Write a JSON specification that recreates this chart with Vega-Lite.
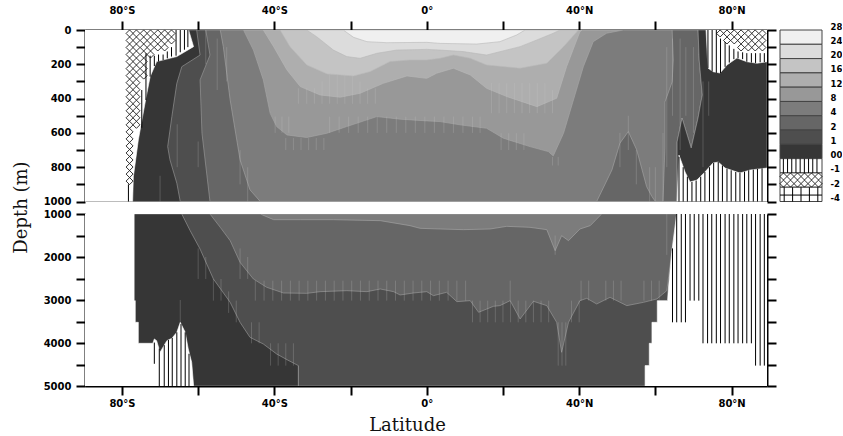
{"$schema":"https://vega.github.io/schema/vega-lite/v6.json","background":"white","padding":{"left":12,"top":5,"right":0,"bottom":0},"spacing":1,
"config":{"view":{"stroke":null},"axis":{"grid":false,"domainWidth":2,"tickWidth":2,"tickSize":9,"domainColor":"black","tickColor":"black","labelColor":"black","labelFont":"DejaVu Sans","labelFontWeight":"bold","labelFontSize":10,"titleFont":"DejaVu Serif","titleFontWeight":"normal","titleFontSize":18,"titleColor":"#111","zindex":1}},
"datasets":{
"polyTop":[
{"b":"24-28","p":"a","lat":-89.7,"d":0},{"b":"24-28","p":"a","lat":89.3,"d":0},{"b":"24-28","p":"a","lat":89.3,"d":1000},{"b":"24-28","p":"a","lat":-89.7,"d":1000},
{"b":"20-24","p":"b","lat":-89.7,"d":0},{"b":"20-24","p":"b","lat":-21.9,"d":0},{"b":"20-24","p":"b","lat":-19.2,"d":43},{"b":"20-24","p":"b","lat":-15.7,"d":68},{"b":"20-24","p":"b","lat":-10.5,"d":74},{"b":"20-24","p":"b","lat":0,"d":72},{"b":"20-24","p":"b","lat":3.5,"d":78},{"b":"20-24","p":"b","lat":13.1,"d":82},{"b":"20-24","p":"b","lat":19.2,"d":68},{"b":"20-24","p":"b","lat":23.6,"d":29},{"b":"20-24","p":"b","lat":25.8,"d":0},{"b":"20-24","p":"b","lat":89.3,"d":0},{"b":"20-24","p":"b","lat":89.3,"d":1000},{"b":"20-24","p":"b","lat":-89.7,"d":1000},
{"b":"16-20","p":"c","lat":-89.7,"d":0},{"b":"16-20","p":"c","lat":-31.5,"d":0},{"b":"16-20","p":"c","lat":-28.9,"d":39},{"b":"16-20","p":"c","lat":-24.5,"d":117},{"b":"16-20","p":"c","lat":-21,"d":155},{"b":"16-20","p":"c","lat":-17.5,"d":165},{"b":"16-20","p":"c","lat":-13.1,"d":136},{"b":"16-20","p":"c","lat":-7.9,"d":117},{"b":"16-20","p":"c","lat":0,"d":113},{"b":"16-20","p":"c","lat":3.5,"d":117},{"b":"16-20","p":"c","lat":9.6,"d":126},{"b":"16-20","p":"c","lat":15.7,"d":146},{"b":"16-20","p":"c","lat":24.5,"d":97},{"b":"16-20","p":"c","lat":28.9,"d":58},{"b":"16-20","p":"c","lat":33.2,"d":19},{"b":"16-20","p":"c","lat":35,"d":0},{"b":"16-20","p":"c","lat":89.3,"d":0},{"b":"16-20","p":"c","lat":89.3,"d":1000},{"b":"16-20","p":"c","lat":-89.7,"d":1000},
{"b":"12-16","p":"d","lat":-89.7,"d":0},{"b":"12-16","p":"d","lat":-38.5,"d":0},{"b":"12-16","p":"d","lat":-35.9,"d":97},{"b":"12-16","p":"d","lat":-31.5,"d":204},{"b":"12-16","p":"d","lat":-26.2,"d":256},{"b":"12-16","p":"d","lat":-19.2,"d":268},{"b":"12-16","p":"d","lat":-14.9,"d":243},{"b":"12-16","p":"d","lat":-9.6,"d":184},{"b":"12-16","p":"d","lat":-4.4,"d":175},{"b":"12-16","p":"d","lat":0,"d":175},{"b":"12-16","p":"d","lat":3.5,"d":165},{"b":"12-16","p":"d","lat":7,"d":146},{"b":"12-16","p":"d","lat":11.4,"d":165},{"b":"12-16","p":"d","lat":15.7,"d":204},{"b":"12-16","p":"d","lat":24.5,"d":223},{"b":"12-16","p":"d","lat":31.5,"d":194},{"b":"12-16","p":"d","lat":35.9,"d":97},{"b":"12-16","p":"d","lat":39.4,"d":10},{"b":"12-16","p":"d","lat":39.8,"d":0},{"b":"12-16","p":"d","lat":89.3,"d":0},{"b":"12-16","p":"d","lat":89.3,"d":1000},{"b":"12-16","p":"d","lat":-89.7,"d":1000},
{"b":"8-12","p":"e","lat":-89.7,"d":0},{"b":"8-12","p":"e","lat":-42.9,"d":0},{"b":"8-12","p":"e","lat":-40.2,"d":97},{"b":"8-12","p":"e","lat":-36.7,"d":233},{"b":"8-12","p":"e","lat":-33.2,"d":330},{"b":"8-12","p":"e","lat":-28,"d":379},{"b":"8-12","p":"e","lat":-22.7,"d":392},{"b":"8-12","p":"e","lat":-17.5,"d":369},{"b":"8-12","p":"e","lat":-11.4,"d":311},{"b":"8-12","p":"e","lat":-5.2,"d":268},{"b":"8-12","p":"e","lat":0,"d":282},{"b":"8-12","p":"e","lat":2.6,"d":252},{"b":"8-12","p":"e","lat":7,"d":223},{"b":"8-12","p":"e","lat":11.4,"d":262},{"b":"8-12","p":"e","lat":15.7,"d":340},{"b":"8-12","p":"e","lat":21,"d":388},{"b":"8-12","p":"e","lat":28.9,"d":447},{"b":"8-12","p":"e","lat":34.1,"d":398},{"b":"8-12","p":"e","lat":36.7,"d":214},{"b":"8-12","p":"e","lat":40.2,"d":10},{"b":"8-12","p":"e","lat":40.8,"d":0},{"b":"8-12","p":"e","lat":89.3,"d":0},{"b":"8-12","p":"e","lat":89.3,"d":1000},{"b":"8-12","p":"e","lat":-89.7,"d":1000},
{"b":"4-8","p":"f","lat":-89.7,"d":0},{"b":"4-8","p":"f","lat":-48.1,"d":0},{"b":"4-8","p":"f","lat":-45.5,"d":117},{"b":"4-8","p":"f","lat":-42.9,"d":291},{"b":"4-8","p":"f","lat":-41.1,"d":486},{"b":"4-8","p":"f","lat":-39.4,"d":563},{"b":"4-8","p":"f","lat":-36.7,"d":612},{"b":"4-8","p":"f","lat":-31.5,"d":627},{"b":"4-8","p":"f","lat":-26.2,"d":602},{"b":"4-8","p":"f","lat":-21,"d":563},{"b":"4-8","p":"f","lat":-13.1,"d":505},{"b":"4-8","p":"f","lat":-7,"d":520},{"b":"4-8","p":"f","lat":0,"d":530},{"b":"4-8","p":"f","lat":3.5,"d":534},{"b":"4-8","p":"f","lat":8.7,"d":553},{"b":"4-8","p":"f","lat":15.7,"d":573},{"b":"4-8","p":"f","lat":20.1,"d":631},{"b":"4-8","p":"f","lat":27.1,"d":680},{"b":"4-8","p":"f","lat":31.9,"d":709},{"b":"4-8","p":"f","lat":33.2,"d":734},{"b":"4-8","p":"f","lat":35.9,"d":602},{"b":"4-8","p":"f","lat":38.5,"d":408},{"b":"4-8","p":"f","lat":41.1,"d":214},{"b":"4-8","p":"f","lat":43.7,"d":68},{"b":"4-8","p":"f","lat":47.2,"d":19},{"b":"4-8","p":"f","lat":51.6,"d":0},{"b":"4-8","p":"f","lat":89.3,"d":0},{"b":"4-8","p":"f","lat":89.3,"d":1000},{"b":"4-8","p":"f","lat":-89.7,"d":1000},
{"b":"2-4","p":"g","lat":-89.7,"d":0},{"b":"2-4","p":"g","lat":-54.2,"d":0},{"b":"2-4","p":"g","lat":-53.4,"d":97},{"b":"2-4","p":"g","lat":-51.6,"d":408},{"b":"2-4","p":"g","lat":-49,"d":757},{"b":"2-4","p":"g","lat":-46.4,"d":932},{"b":"2-4","p":"g","lat":-43.7,"d":1000},{"b":"2-4","p":"g","lat":44.6,"d":1000},{"b":"2-4","p":"g","lat":48.6,"d":816},{"b":"2-4","p":"g","lat":50.7,"d":660},{"b":"2-4","p":"g","lat":52.9,"d":592},{"b":"2-4","p":"g","lat":55.1,"d":699},{"b":"2-4","p":"g","lat":57.7,"d":913},{"b":"2-4","p":"g","lat":59.1,"d":971},{"b":"2-4","p":"g","lat":60,"d":1000},{"b":"2-4","p":"g","lat":62,"d":1000},{"b":"2-4","p":"g","lat":62.5,"d":688},{"b":"2-4","p":"g","lat":62.5,"d":420},{"b":"2-4","p":"g","lat":64.4,"d":303},{"b":"2-4","p":"g","lat":64.7,"d":175},{"b":"2-4","p":"g","lat":64.4,"d":0},{"b":"2-4","p":"g","lat":89.3,"d":0},{"b":"2-4","p":"g","lat":89.3,"d":1000},{"b":"2-4","p":"g","lat":-89.7,"d":1000},
{"b":"1-2","p":"h","lat":-89.7,"d":0},{"b":"1-2","p":"h","lat":-58,"d":0},{"b":"1-2","p":"h","lat":-56.9,"d":146},{"b":"1-2","p":"h","lat":-59.5,"d":291},{"b":"1-2","p":"h","lat":-59,"d":602},{"b":"1-2","p":"h","lat":-56.9,"d":1000},{"b":"1-2","p":"h","lat":65.7,"d":1000},{"b":"1-2","p":"h","lat":65.7,"d":653},{"b":"1-2","p":"h","lat":67,"d":513},{"b":"1-2","p":"h","lat":69.4,"d":688},{"b":"1-2","p":"h","lat":71.2,"d":513},{"b":"1-2","p":"h","lat":72.3,"d":379},{"b":"1-2","p":"h","lat":71.5,"d":175},{"b":"1-2","p":"h","lat":71.2,"d":0},{"b":"1-2","p":"h","lat":89.3,"d":0},{"b":"1-2","p":"h","lat":89.3,"d":1000},{"b":"1-2","p":"h","lat":-89.7,"d":1000},
{"b":"0-1","p":"i","lat":-89.7,"d":0},{"b":"0-1","p":"i","lat":-60.4,"d":0},{"b":"0-1","p":"i","lat":-59.5,"d":146},{"b":"0-1","p":"i","lat":-64.3,"d":214},{"b":"0-1","p":"i","lat":-65.6,"d":311},{"b":"0-1","p":"i","lat":-66.9,"d":505},{"b":"0-1","p":"i","lat":-68,"d":680},{"b":"0-1","p":"i","lat":-67.4,"d":757},{"b":"0-1","p":"i","lat":-65.6,"d":893},{"b":"0-1","p":"i","lat":-64.7,"d":1000},{"b":"0-1","p":"i","lat":65.7,"d":1000},{"b":"0-1","p":"i","lat":65.7,"d":653},{"b":"0-1","p":"i","lat":67,"d":513},{"b":"0-1","p":"i","lat":69.4,"d":688},{"b":"0-1","p":"i","lat":71.2,"d":513},{"b":"0-1","p":"i","lat":72.3,"d":379},{"b":"0-1","p":"i","lat":71.5,"d":175},{"b":"0-1","p":"i","lat":71.2,"d":0},{"b":"0-1","p":"i","lat":89.3,"d":0},{"b":"0-1","p":"i","lat":89.3,"d":1000},{"b":"0-1","p":"i","lat":-89.7,"d":1000},
{"b":"sub","p":"j","lat":-89.7,"d":0},{"b":"sub","p":"j","lat":-62.5,"d":0},{"b":"sub","p":"j","lat":-61.2,"d":97},{"b":"sub","p":"j","lat":-65.6,"d":155},{"b":"sub","p":"j","lat":-70.9,"d":184},{"b":"sub","p":"j","lat":-72.6,"d":272},{"b":"sub","p":"j","lat":-73.8,"d":408},{"b":"sub","p":"j","lat":-75.7,"d":641},{"b":"sub","p":"j","lat":-77,"d":855},{"b":"sub","p":"j","lat":-77.2,"d":1000},{"b":"sub","p":"j","lat":-89.7,"d":1000},
{"b":"sub","p":"k","lat":73.3,"d":0},{"b":"sub","p":"k","lat":73.8,"d":222},{"b":"sub","p":"k","lat":75.1,"d":243},{"b":"sub","p":"k","lat":77,"d":251},{"b":"sub","p":"k","lat":78.8,"d":204},{"b":"sub","p":"k","lat":81.4,"d":163},{"b":"sub","p":"k","lat":84,"d":185},{"b":"sub","p":"k","lat":86.7,"d":194},{"b":"sub","p":"k","lat":89.3,"d":185},{"b":"sub","p":"k","lat":89.3,"d":0},
{"b":"sub","p":"l","lat":65.7,"d":1000},{"b":"sub","p":"l","lat":66.2,"d":729},{"b":"sub","p":"l","lat":67.8,"d":828},{"b":"sub","p":"l","lat":69.1,"d":886},{"b":"sub","p":"l","lat":70.9,"d":875},{"b":"sub","p":"l","lat":73,"d":828},{"b":"sub","p":"l","lat":75.1,"d":776},{"b":"sub","p":"l","lat":76.5,"d":770},{"b":"sub","p":"l","lat":78.3,"d":805},{"b":"sub","p":"l","lat":82.2,"d":834},{"b":"sub","p":"l","lat":84.9,"d":816},{"b":"sub","p":"l","lat":89.3,"d":805},{"b":"sub","p":"l","lat":89.3,"d":1000}
],
"polyBot":[
{"b":"4-8","p":"a","lat":-89.7,"d":1000},{"b":"4-8","p":"a","lat":89.3,"d":1000},{"b":"4-8","p":"a","lat":89.3,"d":5000},{"b":"4-8","p":"a","lat":-89.7,"d":5000},
{"b":"2-4","p":"b","lat":-89.7,"d":1000},{"b":"2-4","p":"b","lat":-43.7,"d":1000},{"b":"2-4","p":"b","lat":-40.2,"d":1132},{"b":"2-4","p":"b","lat":-33.2,"d":1132},{"b":"2-4","p":"b","lat":-24.5,"d":1132},{"b":"2-4","p":"b","lat":-12.2,"d":1155},{"b":"2-4","p":"b","lat":-4.4,"d":1271},{"b":"2-4","p":"b","lat":-1.75,"d":1333},{"b":"2-4","p":"b","lat":3.5,"d":1349},{"b":"2-4","p":"b","lat":9.6,"d":1364},{"b":"2-4","p":"b","lat":16.6,"d":1349},{"b":"2-4","p":"b","lat":21,"d":1287},{"b":"2-4","p":"b","lat":27.1,"d":1310},{"b":"2-4","p":"b","lat":31.5,"d":1364},{"b":"2-4","p":"b","lat":33.7,"d":1853},{"b":"2-4","p":"b","lat":35.4,"d":1504},{"b":"2-4","p":"b","lat":37.2,"d":1620},{"b":"2-4","p":"b","lat":40.2,"d":1349},{"b":"2-4","p":"b","lat":42.9,"d":1271},{"b":"2-4","p":"b","lat":45.9,"d":1000},{"b":"2-4","p":"b","lat":89.3,"d":1000},{"b":"2-4","p":"b","lat":89.3,"d":5000},{"b":"2-4","p":"b","lat":-89.7,"d":5000},
{"b":"1-2","p":"c","lat":-89.7,"d":1000},{"b":"1-2","p":"c","lat":-56.9,"d":1000},{"b":"1-2","p":"c","lat":-54.2,"d":1310},{"b":"1-2","p":"c","lat":-51.6,"d":1620},{"b":"1-2","p":"c","lat":-49,"d":2124},{"b":"1-2","p":"c","lat":-45.5,"d":2511},{"b":"1-2","p":"c","lat":-42,"d":2705},{"b":"1-2","p":"c","lat":-37.6,"d":2837},{"b":"1-2","p":"c","lat":-31.5,"d":2845},{"b":"1-2","p":"c","lat":-28,"d":2806},{"b":"1-2","p":"c","lat":-21,"d":2783},{"b":"1-2","p":"c","lat":-15.7,"d":2806},{"b":"1-2","p":"c","lat":-12.2,"d":2744},{"b":"1-2","p":"c","lat":-8.7,"d":2806},{"b":"1-2","p":"c","lat":-7,"d":2883},{"b":"1-2","p":"c","lat":-3.5,"d":2837},{"b":"1-2","p":"c","lat":0,"d":2806},{"b":"1-2","p":"c","lat":1.75,"d":2899},{"b":"1-2","p":"c","lat":5.2,"d":2821},{"b":"1-2","p":"c","lat":7.9,"d":3038},{"b":"1-2","p":"c","lat":11.4,"d":3015},{"b":"1-2","p":"c","lat":13.6,"d":3286},{"b":"1-2","p":"c","lat":17.5,"d":3147},{"b":"1-2","p":"c","lat":19.2,"d":3131},{"b":"1-2","p":"c","lat":21.9,"d":3015},{"b":"1-2","p":"c","lat":24.5,"d":3441},{"b":"1-2","p":"c","lat":28,"d":3030},{"b":"1-2","p":"c","lat":31.5,"d":3131},{"b":"1-2","p":"c","lat":34.1,"d":3519},{"b":"1-2","p":"c","lat":35.4,"d":4216},{"b":"1-2","p":"c","lat":37.2,"d":3519},{"b":"1-2","p":"c","lat":40.2,"d":3015},{"b":"1-2","p":"c","lat":42,"d":2961},{"b":"1-2","p":"c","lat":44.6,"d":3093},{"b":"1-2","p":"c","lat":48.1,"d":2938},{"b":"1-2","p":"c","lat":52.5,"d":3131},{"b":"1-2","p":"c","lat":56.9,"d":3054},{"b":"1-2","p":"c","lat":60.4,"d":2976},{"b":"1-2","p":"c","lat":63,"d":2783},{"b":"1-2","p":"c","lat":64.3,"d":1891},{"b":"1-2","p":"c","lat":65.6,"d":1000},{"b":"1-2","p":"c","lat":89.3,"d":1000},{"b":"1-2","p":"c","lat":89.3,"d":5000},{"b":"1-2","p":"c","lat":-89.7,"d":5000},
{"b":"0-1","p":"d","lat":-89.7,"d":1000},{"b":"0-1","p":"d","lat":-64.3,"d":1000},{"b":"0-1","p":"d","lat":-62.1,"d":1388},{"b":"0-1","p":"d","lat":-59.5,"d":1814},{"b":"0-1","p":"d","lat":-56,"d":2511},{"b":"0-1","p":"d","lat":-51.6,"d":3054},{"b":"0-1","p":"d","lat":-49,"d":3519},{"b":"0-1","p":"d","lat":-46.4,"d":3868},{"b":"0-1","p":"d","lat":-42.9,"d":4023},{"b":"0-1","p":"d","lat":-39.4,"d":4255},{"b":"0-1","p":"d","lat":-36.7,"d":4387},{"b":"0-1","p":"d","lat":-33.7,"d":4526},{"b":"0-1","p":"d","lat":-33.7,"d":5000},{"b":"0-1","p":"d","lat":-89.7,"d":5000},
{"b":"sub","p":"e","lat":-89.7,"d":1000},{"b":"sub","p":"e","lat":-76.8,"d":1000},{"b":"sub","p":"e","lat":-76.8,"d":3015},{"b":"sub","p":"e","lat":-76.5,"d":3015},{"b":"sub","p":"e","lat":-76.5,"d":3519},{"b":"sub","p":"e","lat":-75.7,"d":3519},{"b":"sub","p":"e","lat":-75.7,"d":4007},{"b":"sub","p":"e","lat":-71.9,"d":4007},{"b":"sub","p":"e","lat":-71.5,"d":3906},{"b":"sub","p":"e","lat":-70.9,"d":3945},{"b":"sub","p":"e","lat":-70,"d":4216},{"b":"sub","p":"e","lat":-68.2,"d":3945},{"b":"sub","p":"e","lat":-66.9,"d":3891},{"b":"sub","p":"e","lat":-65.6,"d":3751},{"b":"sub","p":"e","lat":-64.7,"d":3519},{"b":"sub","p":"e","lat":-63.4,"d":3751},{"b":"sub","p":"e","lat":-62.6,"d":4139},{"b":"sub","p":"e","lat":-61.7,"d":4449},{"b":"sub","p":"e","lat":-61.2,"d":4991},{"b":"sub","p":"e","lat":-61.2,"d":5000},{"b":"sub","p":"e","lat":-89.7,"d":5000},
{"b":"sub","p":"f","lat":65.6,"d":1000},{"b":"sub","p":"f","lat":64.3,"d":1891},{"b":"sub","p":"f","lat":63.4,"d":2744},{"b":"sub","p":"f","lat":63.2,"d":3015},{"b":"sub","p":"f","lat":60.5,"d":3015},{"b":"sub","p":"f","lat":60.5,"d":3519},{"b":"sub","p":"f","lat":59.1,"d":3519},{"b":"sub","p":"f","lat":59.1,"d":4007},{"b":"sub","p":"f","lat":58.4,"d":4007},{"b":"sub","p":"f","lat":58.4,"d":4526},{"b":"sub","p":"f","lat":57.3,"d":4526},{"b":"sub","p":"f","lat":57.3,"d":5000},{"b":"sub","p":"f","lat":89.3,"d":5000},{"b":"sub","p":"f","lat":89.3,"d":1000}
],
"hatchTop":[
{"lat":-74.8,"top":350,"bot":570},{"lat":-73.7,"top":136,"bot":408},{"lat":-72.6,"top":150,"bot":272},{"lat":-71.5,"top":150,"bot":210},{"lat":-70.4,"top":143,"bot":184},{"lat":-69.2,"top":143,"bot":175},{"lat":-68.1,"top":125,"bot":165},{"lat":-67,"top":100,"bot":155},{"lat":-65.8,"top":0,"bot":150},{"lat":-64.7,"top":0,"bot":130},{"lat":-63.6,"top":0,"bot":115},{"lat":-62.7,"top":0,"bot":100},
{"lat":73.8,"top":0,"bot":222},{"lat":74.9,"top":0,"bot":243},{"lat":76,"top":0,"bot":250},{"lat":77.1,"top":50,"bot":251},{"lat":78.3,"top":70,"bot":215},{"lat":79.4,"top":90,"bot":190},{"lat":80.6,"top":110,"bot":170},{"lat":81.7,"top":125,"bot":165},{"lat":82.9,"top":130,"bot":170},{"lat":84,"top":135,"bot":185},{"lat":85.2,"top":135,"bot":190},{"lat":86.3,"top":135,"bot":192},{"lat":87.5,"top":135,"bot":188},{"lat":88.6,"top":135,"bot":187},
{"lat":66.2,"top":740,"bot":1000},{"lat":67.3,"top":800,"bot":1000},{"lat":68.4,"top":855,"bot":1000},{"lat":69.6,"top":886,"bot":1000},{"lat":70.7,"top":878,"bot":1000},{"lat":71.9,"top":855,"bot":1000},{"lat":73,"top":828,"bot":1000},{"lat":74.2,"top":800,"bot":1000},{"lat":75.3,"top":775,"bot":1000},{"lat":76.5,"top":770,"bot":1000},{"lat":77.6,"top":790,"bot":1000},{"lat":78.8,"top":808,"bot":1000},{"lat":79.9,"top":818,"bot":1000},{"lat":81.1,"top":828,"bot":1000},{"lat":82.2,"top":834,"bot":1000},{"lat":83.4,"top":826,"bot":1000},{"lat":84.5,"top":818,"bot":1000},{"lat":85.7,"top":814,"bot":1000},{"lat":86.8,"top":810,"bot":1000},{"lat":88,"top":807,"bot":1000},{"lat":-78.3,"top":900,"bot":1000}
],
"hatchBot":[
{"lat":-71.5,"top":3990,"bot":4484},{"lat":-70.2,"top":4130,"bot":5000},{"lat":-68.9,"top":4050,"bot":5000},{"lat":-67.8,"top":3930,"bot":5000},{"lat":-66.8,"top":3880,"bot":5000},{"lat":-65.6,"top":3751,"bot":5000},{"lat":-64.5,"top":3560,"bot":5000},{"lat":-63.4,"top":3751,"bot":5000},{"lat":-62.4,"top":4250,"bot":5000},
{"lat":64.5,"top":1800,"bot":3519},{"lat":65.6,"top":1000,"bot":3519},{"lat":66.8,"top":1000,"bot":3519},{"lat":67.9,"top":1000,"bot":3519},{"lat":69.1,"top":1000,"bot":3015},{"lat":70.2,"top":1000,"bot":3015},{"lat":71.4,"top":1000,"bot":3015},{"lat":72.5,"top":1000,"bot":4007},{"lat":73.7,"top":1000,"bot":4007},{"lat":74.8,"top":1000,"bot":4007},{"lat":76,"top":1000,"bot":4007},{"lat":77.1,"top":1000,"bot":4007},{"lat":78.3,"top":1000,"bot":4007},{"lat":79.4,"top":1000,"bot":4007},{"lat":80.6,"top":1000,"bot":4007},{"lat":81.7,"top":1000,"bot":4007},{"lat":82.9,"top":1000,"bot":4007},{"lat":84,"top":1000,"bot":4007},{"lat":85.2,"top":1000,"bot":4007},{"lat":86.3,"top":1000,"bot":4526},{"lat":87.5,"top":1000,"bot":4526},{"lat":88.6,"top":1000,"bot":4526}
],
"crossTop":[
{"lat":-78,"d":20},{"lat":-76.2,"d":20},{"lat":-74.3,"d":20},{"lat":-72.5,"d":20},{"lat":-70.6,"d":20},{"lat":-68.8,"d":20},{"lat":-67,"d":20},
{"lat":-78,"d":61},{"lat":-76.2,"d":61},{"lat":-74.3,"d":61},{"lat":-72.5,"d":61},{"lat":-70.6,"d":61},{"lat":-68.8,"d":61},{"lat":-67,"d":61},
{"lat":-78,"d":102},{"lat":-76.2,"d":102},{"lat":-74.3,"d":102},{"lat":-72.5,"d":102},{"lat":-70.6,"d":102},{"lat":-68.8,"d":102},
{"lat":-78,"d":143},{"lat":-76.2,"d":143},{"lat":-74.3,"d":143},{"lat":-72.5,"d":143},
{"lat":-78,"d":184},{"lat":-76.2,"d":184},{"lat":-74.3,"d":184},
{"lat":-78,"d":225},{"lat":-76.2,"d":225},{"lat":-74.3,"d":225},
{"lat":-78,"d":266},{"lat":-76.2,"d":266},{"lat":-74.3,"d":266},
{"lat":-78,"d":307},{"lat":-76.2,"d":307},{"lat":-78,"d":348},{"lat":-76.2,"d":348},{"lat":-78,"d":389},{"lat":-76.2,"d":389},{"lat":-78,"d":430},{"lat":-76.2,"d":430},{"lat":-78,"d":471},{"lat":-76.2,"d":471},{"lat":-78,"d":512},{"lat":-76.2,"d":512},{"lat":-78,"d":553},{"lat":-76.2,"d":553},
{"lat":-78,"d":594},{"lat":-78,"d":635},{"lat":-78,"d":676},{"lat":-78,"d":717},{"lat":-78,"d":758},{"lat":-78,"d":799},{"lat":-78,"d":840},{"lat":-78,"d":881},
{"lat":77,"d":20},{"lat":78.8,"d":20},{"lat":80.7,"d":20},{"lat":82.5,"d":20},{"lat":84.4,"d":20},{"lat":86.2,"d":20},{"lat":88.1,"d":20},
{"lat":78.8,"d":61},{"lat":80.7,"d":61},{"lat":82.5,"d":61},{"lat":84.4,"d":61},{"lat":86.2,"d":61},{"lat":88.1,"d":61},
{"lat":82.5,"d":102},{"lat":84.4,"d":102},{"lat":86.2,"d":102},{"lat":88.1,"d":102}
],
"artTop":[
{"lat":-33.7,"top":340,"bot":430},{"lat":-31.5,"top":340,"bot":430},{"lat":-29.5,"top":340,"bot":430},{"lat":-27.5,"top":300,"bot":430},{"lat":-25.5,"top":260,"bot":430},{"lat":-23.5,"top":260,"bot":430},{"lat":-21.5,"top":260,"bot":430},{"lat":-19.5,"top":260,"bot":430},{"lat":-17.5,"top":300,"bot":430},{"lat":-15.5,"top":340,"bot":430},{"lat":-13.5,"top":340,"bot":430},
{"lat":-39.8,"top":505,"bot":600},{"lat":-38,"top":505,"bot":600},{"lat":-36.2,"top":505,"bot":600},{"lat":-25.5,"top":505,"bot":600},{"lat":-23,"top":505,"bot":600},{"lat":-20.5,"top":505,"bot":600},{"lat":-18,"top":505,"bot":600},{"lat":-15.5,"top":505,"bot":600},{"lat":-13,"top":505,"bot":600},{"lat":-10.5,"top":505,"bot":600},{"lat":-8,"top":505,"bot":600},{"lat":-5.5,"top":505,"bot":600},{"lat":-3,"top":505,"bot":600},{"lat":-0.5,"top":505,"bot":600},{"lat":2,"top":505,"bot":600},{"lat":4.5,"top":505,"bot":600},{"lat":7,"top":505,"bot":600},{"lat":9.5,"top":505,"bot":600},{"lat":12,"top":505,"bot":600},{"lat":14,"top":505,"bot":600},
{"lat":-37,"top":630,"bot":700},{"lat":-35,"top":630,"bot":700},{"lat":-33,"top":630,"bot":700},{"lat":-31,"top":630,"bot":700},{"lat":-29,"top":630,"bot":700},{"lat":-27,"top":630,"bot":700},
{"lat":17,"top":310,"bot":485},{"lat":19,"top":310,"bot":485},{"lat":21,"top":310,"bot":485},{"lat":23,"top":310,"bot":485},{"lat":25,"top":310,"bot":485},{"lat":27,"top":310,"bot":485},{"lat":29,"top":310,"bot":485},{"lat":31,"top":310,"bot":485},{"lat":33,"top":350,"bot":485},
{"lat":19.5,"top":602,"bot":700},{"lat":21.5,"top":602,"bot":700},{"lat":23.5,"top":602,"bot":700},{"lat":25.5,"top":602,"bot":700},{"lat":33,"top":740,"bot":790},{"lat":34.5,"top":740,"bot":790},
{"lat":52.9,"top":500,"bot":700},{"lat":50.7,"top":600,"bot":800},{"lat":55,"top":700,"bot":900},{"lat":58.5,"top":800,"bot":1000},{"lat":60,"top":800,"bot":1000},{"lat":62,"top":600,"bot":1000},{"lat":63,"top":100,"bot":800},{"lat":64.5,"top":50,"bot":500},{"lat":66.5,"top":50,"bot":700},{"lat":68,"top":100,"bot":500},{"lat":70,"top":100,"bot":600},{"lat":72.5,"top":300,"bot":800},{"lat":74,"top":300,"bot":500},
{"lat":-58,"top":0,"bot":200},{"lat":-55,"top":50,"bot":350},{"lat":-52.5,"top":100,"bot":300},{"lat":-49,"top":700,"bot":900},{"lat":-47,"top":800,"bot":1000},{"lat":-65.5,"top":550,"bot":800},{"lat":-70,"top":850,"bot":1000},{"lat":-60,"top":650,"bot":800}
],
"artBot":[
{"lat":-45,"top":2550,"bot":3015},{"lat":-42.7,"top":2550,"bot":3015},{"lat":-40.4,"top":2550,"bot":3015},{"lat":-38.1,"top":2550,"bot":3015},{"lat":-35.8,"top":2550,"bot":3015},{"lat":-33.5,"top":2550,"bot":3015},{"lat":-31.2,"top":2550,"bot":3015},{"lat":-28.9,"top":2550,"bot":3015},{"lat":-26.6,"top":2550,"bot":3015},{"lat":-24.3,"top":2550,"bot":3015},{"lat":-22,"top":2550,"bot":3015},{"lat":-19.7,"top":2550,"bot":3015},{"lat":-17.4,"top":2550,"bot":3015},{"lat":-15.1,"top":2550,"bot":3015},{"lat":-12.8,"top":2550,"bot":3015},{"lat":-10.5,"top":2550,"bot":3015},{"lat":-8.2,"top":2550,"bot":3015},{"lat":-5.9,"top":2550,"bot":3015},{"lat":-3.6,"top":2550,"bot":3015},{"lat":-1.3,"top":2550,"bot":3015},{"lat":1,"top":2550,"bot":3015},{"lat":3.3,"top":2550,"bot":3015},{"lat":5.6,"top":2550,"bot":3015},{"lat":7.9,"top":2550,"bot":3015},{"lat":10.2,"top":2550,"bot":3015},{"lat":21.9,"top":2550,"bot":3015},{"lat":40.5,"top":2550,"bot":3015},{"lat":42.5,"top":2550,"bot":3015},{"lat":47,"top":2550,"bot":3015},{"lat":49,"top":2550,"bot":3015},{"lat":51,"top":2550,"bot":3015},{"lat":57,"top":2550,"bot":3015},{"lat":59,"top":2550,"bot":3015},{"lat":61,"top":2550,"bot":3015},
{"lat":12,"top":3015,"bot":3519},{"lat":14,"top":3015,"bot":3519},{"lat":16,"top":3015,"bot":3519},{"lat":18,"top":3015,"bot":3519},{"lat":20,"top":3015,"bot":3519},{"lat":22,"top":3015,"bot":3519},{"lat":24,"top":3015,"bot":3519},{"lat":26,"top":3015,"bot":3519},{"lat":28,"top":3015,"bot":3519},{"lat":30,"top":3015,"bot":3519},{"lat":32,"top":3015,"bot":3519},{"lat":38,"top":3015,"bot":3519},{"lat":40,"top":3015,"bot":3519},{"lat":34.5,"top":3519,"bot":4526},{"lat":35.5,"top":3519,"bot":4526},{"lat":36.5,"top":3519,"bot":4526},
{"lat":-46,"top":3519,"bot":4007},{"lat":-44,"top":3519,"bot":4007},{"lat":-41,"top":4007,"bot":4526},{"lat":-39,"top":4007,"bot":4526},{"lat":-37,"top":4007,"bot":4526},{"lat":-35,"top":4007,"bot":4526},{"lat":-33.7,"top":4526,"bot":5000},
{"lat":-56,"top":2511,"bot":3015},{"lat":-54,"top":2511,"bot":3015},{"lat":-52,"top":2800,"bot":3300},{"lat":-50,"top":3015,"bot":3519},{"lat":-60,"top":1800,"bot":2511},{"lat":-58,"top":2000,"bot":2511},{"lat":-49,"top":1800,"bot":2511},{"lat":-47,"top":2000,"bot":2511},{"lat":-64.7,"top":3000,"bot":3519},{"lat":33.7,"top":1500,"bot":1950},{"lat":63,"top":1000,"bot":1950}
],
"legendBands":[
{"b":"24-28","y0":0,"y1":1},{"b":"20-24","y0":1,"y1":2},{"b":"16-20","y0":2,"y1":3},{"b":"12-16","y0":3,"y1":4},{"b":"8-12","y0":4,"y1":5},{"b":"4-8","y0":5,"y1":6},{"b":"2-4","y0":6,"y1":7},{"b":"1-2","y0":7,"y1":8},{"b":"0-1","y0":8,"y1":9},{"b":"sub","y0":9,"y1":10},{"b":"sub","y0":10,"y1":11},{"b":"sub","y0":11,"y1":12}
],
"legendLines":[
{"x0":0.08,"x1":0.08,"y0":9,"y1":10},{"x0":0.18,"x1":0.18,"y0":9,"y1":10},{"x0":0.28,"x1":0.28,"y0":9,"y1":10},{"x0":0.38,"x1":0.38,"y0":9,"y1":10},{"x0":0.48,"x1":0.48,"y0":9,"y1":10},{"x0":0.58,"x1":0.58,"y0":9,"y1":10},{"x0":0.68,"x1":0.68,"y0":9,"y1":10},{"x0":0.78,"x1":0.78,"y0":9,"y1":10},{"x0":0.88,"x1":0.88,"y0":9,"y1":10},
{"x0":0.1,"x1":0.1,"y0":11,"y1":12},{"x0":0.3,"x1":0.3,"y0":11,"y1":12},{"x0":0.5,"x1":0.5,"y0":11,"y1":12},{"x0":0.7,"x1":0.7,"y0":11,"y1":12},{"x0":0.9,"x1":0.9,"y0":11,"y1":12},{"x0":0,"x1":1,"y0":11.55,"y1":11.55}
],
"legendCross":[
{"x":0.083,"y":10.25},{"x":0.25,"y":10.25},{"x":0.417,"y":10.25},{"x":0.583,"y":10.25},{"x":0.75,"y":10.25},{"x":0.917,"y":10.25},
{"x":0.083,"y":10.75},{"x":0.25,"y":10.75},{"x":0.417,"y":10.75},{"x":0.583,"y":10.75},{"x":0.75,"y":10.75},{"x":0.917,"y":10.75}
]
},
"hconcat":[
{"vconcat":[
{"width":682,"height":171.5,"resolve":{"axis":{"x":"independent","y":"independent"}},"layer":[
{"data":{"name":"polyTop"},"mark":{"type":"line","strokeWidth":0.6,"clip":true},"encoding":{
"x":{"field":"lat","type":"quantitative","scale":{"domain":[-89.7,89.3],"nice":false,"zero":false},"axis":{"orient":"top","title":null,"values":[-80,-60,-40,-20,0,20,40,60,80],"labelPadding":6,"labelExpr":"datum.value%40!=0?'':(datum.value<0?(-datum.value)+'°S':(datum.value>0?datum.value+'°N':'0°'))"}},
"y":{"field":"d","type":"quantitative","scale":{"domain":[0,1000],"reverse":true,"nice":false,"zero":false},"axis":{"orient":"left","title":"Depth (m)","titleX":-55,"titleY":177,"values":[0,100,200,300,400,500,600,700,800,900,1000],"labelPadding":5,"labelExpr":"datum.value%200==0?datum.value:''"}},
"fill":{"field":"b","type":"nominal","scale":{"domain":["24-28","20-24","16-20","12-16","8-12","4-8","2-4","1-2","0-1","sub"],"range":["#f0f0f0","#dcdcdc","#c4c4c4","#aeaeae","#989898","#7c7c7c","#666666","#4e4e4e","#363636","#ffffff"]},"legend":null},
"stroke":{"field":"b","type":"nominal","scale":{"domain":["24-28","20-24","16-20","12-16","8-12","4-8","2-4","1-2","0-1","sub"],"range":["#b8b8b8","#b8b8b8","#b8b8b8","#b8b8b8","#b8b8b8","#a8a8a8","#a8a8a8","#a0a0a0","#a0a0a0","#ffffff"]},"legend":null},
"detail":{"field":"p"},"order":{"value":null}}},
{"data":{"name":"artTop"},"mark":{"type":"rule","color":"#c8c8c8","opacity":0.3,"strokeWidth":0.8},"encoding":{
"x":{"field":"lat","type":"quantitative","scale":{"domain":[-89.7,89.3],"nice":false,"zero":false},"axis":null},
"y":{"field":"top","type":"quantitative","scale":{"domain":[0,1000],"reverse":true,"nice":false,"zero":false},"axis":null},"y2":{"field":"bot"}}},
{"data":{"name":"hatchTop"},"mark":{"type":"rule","color":"black","strokeWidth":1},"encoding":{
"x":{"field":"lat","type":"quantitative","scale":{"domain":[-89.7,89.3],"nice":false,"zero":false},"axis":null},
"y":{"field":"top","type":"quantitative","scale":{"domain":[0,1000],"reverse":true,"nice":false,"zero":false},"axis":{"orient":"right","title":null,"labels":false,"domain":true,"values":[0,100,200,300,400,500,600,700,800,900,1000]}},"y2":{"field":"bot"}}},
{"data":{"name":"crossTop"},"mark":{"type":"point","shape":"diamond","filled":false,"size":49,"color":"black","strokeWidth":0.8,"opacity":1},"encoding":{
"x":{"field":"lat","type":"quantitative","scale":{"domain":[-89.7,89.3],"nice":false,"zero":false},"axis":null},
"y":{"field":"d","type":"quantitative","scale":{"domain":[0,1000],"reverse":true,"nice":false,"zero":false},"axis":null}}}
]},
{"width":682,"height":172,"resolve":{"axis":{"x":"independent","y":"independent"}},"layer":[
{"data":{"name":"polyBot"},"mark":{"type":"line","strokeWidth":0.6,"clip":true},"encoding":{
"x":{"field":"lat","type":"quantitative","scale":{"domain":[-89.7,89.3],"nice":false,"zero":false},"axis":{"orient":"bottom","title":"Latitude","titleX":322,"titlePadding":8,"values":[-80,-60,-40,-20,0,20,40,60,80],"labelPadding":3,"labelExpr":"datum.value%40!=0?'':(datum.value<0?(-datum.value)+'°S':(datum.value>0?datum.value+'°N':'0°'))"}},
"y":{"field":"d","type":"quantitative","scale":{"domain":[1000,5000],"reverse":true,"nice":false,"zero":false},"axis":{"orient":"left","title":null,"values":[1000,1500,2000,2500,3000,3500,4000,4500,5000],"labelPadding":5,"labelExpr":"datum.value%1000==0?datum.value:''"}},
"fill":{"field":"b","type":"nominal","scale":{"domain":["24-28","20-24","16-20","12-16","8-12","4-8","2-4","1-2","0-1","sub"],"range":["#f0f0f0","#dcdcdc","#c4c4c4","#aeaeae","#989898","#7c7c7c","#666666","#4e4e4e","#363636","#ffffff"]},"legend":null},
"stroke":{"field":"b","type":"nominal","scale":{"domain":["24-28","20-24","16-20","12-16","8-12","4-8","2-4","1-2","0-1","sub"],"range":["#b8b8b8","#b8b8b8","#b8b8b8","#b8b8b8","#b8b8b8","#a8a8a8","#a8a8a8","#a0a0a0","#a0a0a0","#ffffff"]},"legend":null},
"detail":{"field":"p"},"order":{"value":null}}},
{"data":{"name":"artBot"},"mark":{"type":"rule","color":"#c8c8c8","opacity":0.3,"strokeWidth":0.8},"encoding":{
"x":{"field":"lat","type":"quantitative","scale":{"domain":[-89.7,89.3],"nice":false,"zero":false},"axis":null},
"y":{"field":"top","type":"quantitative","scale":{"domain":[1000,5000],"reverse":true,"nice":false,"zero":false},"axis":null},"y2":{"field":"bot"}}},
{"data":{"name":"hatchBot"},"mark":{"type":"rule","color":"black","strokeWidth":1},"encoding":{
"x":{"field":"lat","type":"quantitative","scale":{"domain":[-89.7,89.3],"nice":false,"zero":false},"axis":null},
"y":{"field":"top","type":"quantitative","scale":{"domain":[1000,5000],"reverse":true,"nice":false,"zero":false},"axis":{"orient":"right","title":null,"labels":false,"values":[1000,1500,2000,2500,3000,3500,4000,4500,5000]}},"y2":{"field":"bot"}}}
]}
],"spacing":12,"bounds":"flush"},
{"width":42,"height":171.5,"resolve":{"axis":{"x":"independent","y":"independent"}},"layer":[
{"data":{"name":"legendBands"},"mark":{"type":"rect","stroke":"#444444","strokeWidth":1},"encoding":{
"y":{"field":"y0","type":"quantitative","scale":{"domain":[0,12],"reverse":true,"nice":false,"zero":false},"axis":{"orient":"right","title":null,"domain":false,"ticks":false,"values":[0,1,2,3,4,5,6,7,8,9,10,11,12],"labelPadding":8,"labelFontSize":8.5,"labelOffset":-4,"labelExpr":"['28','24','20','16','12','8','4','2','1','00','-1','-2','-4'][datum.value]"}},"y2":{"field":"y1"},
"fill":{"field":"b","type":"nominal","scale":{"domain":["24-28","20-24","16-20","12-16","8-12","4-8","2-4","1-2","0-1","sub"],"range":["#f0f0f0","#dcdcdc","#c4c4c4","#aeaeae","#989898","#7c7c7c","#666666","#4e4e4e","#363636","#ffffff"]},"legend":null}}},
{"data":{"name":"legendLines"},"mark":{"type":"rule","color":"black","strokeWidth":1},"encoding":{
"x":{"field":"x0","type":"quantitative","scale":{"domain":[0,1],"nice":false},"axis":null},"x2":{"field":"x1"},
"y":{"field":"y0","type":"quantitative","scale":{"domain":[0,12],"reverse":true,"nice":false,"zero":false},"axis":null},"y2":{"field":"y1"}}},
{"data":{"name":"legendCross"},"mark":{"type":"point","shape":"diamond","filled":false,"size":49,"color":"black","strokeWidth":0.8,"opacity":1},"encoding":{
"x":{"field":"x","type":"quantitative","scale":{"domain":[0,1],"nice":false},"axis":null},
"y":{"field":"y","type":"quantitative","scale":{"domain":[0,12],"reverse":true,"nice":false,"zero":false},"axis":null}}}
]}
]}
